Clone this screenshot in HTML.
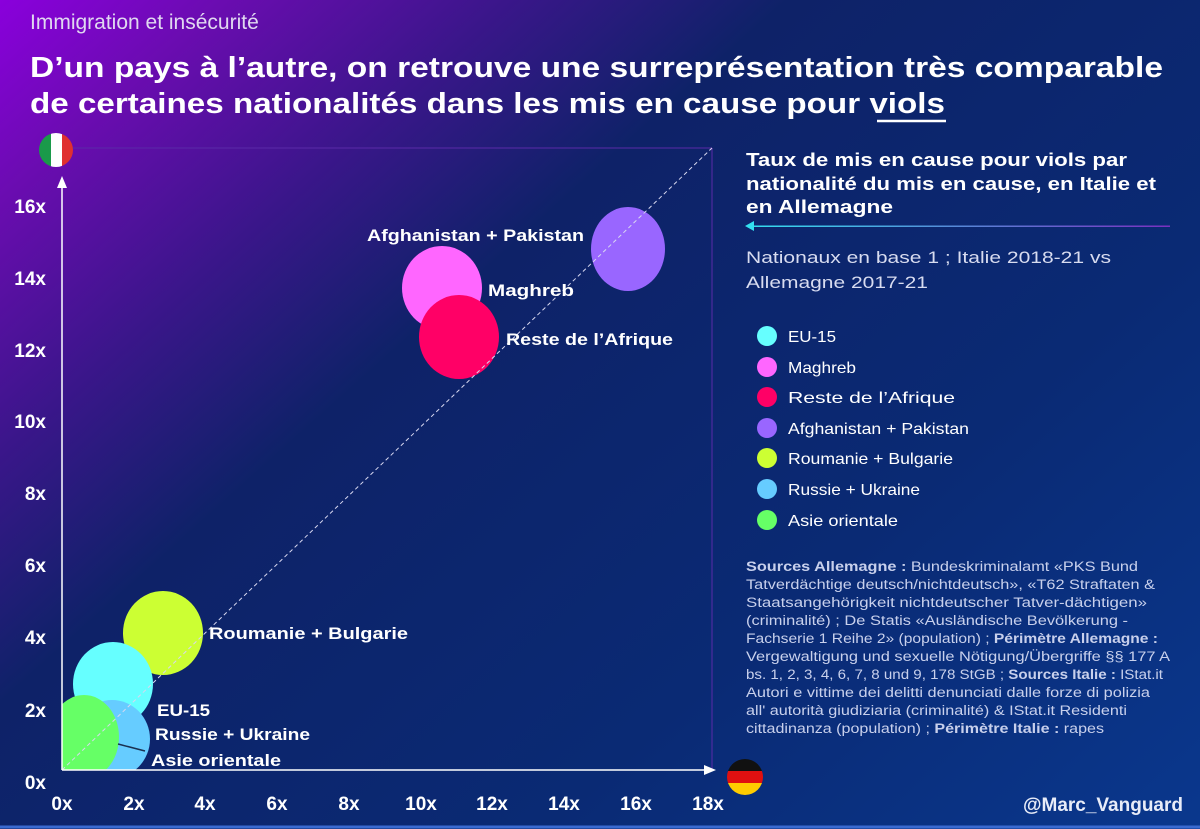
<!DOCTYPE html>
<html><head><meta charset="utf-8"><style>
html,body{margin:0;padding:0;background:#0a2468;}
svg{display:block;}
text{font-family:"Liberation Sans",sans-serif;}
</style></head><body>
<svg width="1200" height="829" viewBox="0 0 1200 829" xmlns="http://www.w3.org/2000/svg">
<defs>
<linearGradient id="bg" gradientUnits="userSpaceOnUse" x1="0" y1="0" x2="1000" y2="1120">
<stop offset="0" stop-color="#8a00dc"/>
<stop offset="0.1" stop-color="#6a0cb0"/>
<stop offset="0.225" stop-color="#3a168a"/>
<stop offset="0.35" stop-color="#0e2268"/>
<stop offset="0.65" stop-color="#0a2a74"/>
<stop offset="1" stop-color="#0a3a92"/>
</linearGradient>
<linearGradient id="arr" gradientUnits="userSpaceOnUse" x1="746" y1="0" x2="1170" y2="0">
<stop offset="0" stop-color="#33e0f0"/><stop offset="1" stop-color="#7a30c0"/>
</linearGradient>
<clipPath id="plot"><rect x="62" y="140" width="660" height="630"/></clipPath>
<clipPath id="itc"><circle cx="56" cy="150" r="17"/></clipPath>
<clipPath id="dec"><circle cx="745" cy="777" r="18"/></clipPath>
</defs>
<rect width="1200" height="829" fill="url(#bg)"/>
<line x1="0" y1="827" x2="1200" y2="827" stroke="#3a6ad0" stroke-width="3"/>

<text x="30" y="29" font-size="21" fill="#e0d8f0">Immigration et insécurité</text>
<text x="30" y="77" font-size="29" font-weight="bold" fill="#fff" textLength="1133" lengthAdjust="spacingAndGlyphs">D’un pays à l’autre, on retrouve une surreprésentation très comparable</text>
<text x="30" y="113" font-size="29" font-weight="bold" fill="#fff" textLength="915" lengthAdjust="spacingAndGlyphs">de certaines nationalités dans les mis en cause pour viols</text>
<line x1="877" y1="121" x2="946" y2="121" stroke="#fff" stroke-width="2.5"/>

<line x1="62" y1="148" x2="712" y2="148" stroke="#5a2aa8" stroke-width="1"/>
<line x1="712" y1="148" x2="712" y2="770" stroke="#5a2aa8" stroke-width="1"/>

<g clip-path="url(#plot)">
<ellipse cx="628" cy="249" rx="37" ry="42" fill="#9966ff"/>
<ellipse cx="442" cy="288" rx="40" ry="42" fill="#ff66ff"/>
<ellipse cx="459" cy="337" rx="40" ry="42" fill="#ff0066"/>
<ellipse cx="163" cy="633" rx="40" ry="42" fill="#ccff33"/>
<ellipse cx="113" cy="684" rx="40" ry="42" fill="#66ffff"/>
<ellipse cx="112" cy="739" rx="38" ry="39" fill="#66ccff"/>
<ellipse cx="84" cy="737" rx="35" ry="42" fill="#66ff66"/>
<line x1="118" y1="744" x2="145" y2="751" stroke="#1a3050" stroke-width="1.5"/>
<line x1="62" y1="770" x2="712" y2="148" stroke="#d8d8f0" stroke-width="1" stroke-dasharray="4,3"/>
</g>

<line x1="62" y1="770" x2="62" y2="186" stroke="#fff" stroke-width="1.5"/>
<polygon points="62,176 57,188 67,188" fill="#fff"/>
<line x1="62" y1="770" x2="706" y2="770" stroke="#fff" stroke-width="1.5"/>
<polygon points="716,770 704,765 704,775" fill="#fff"/>

<g font-size="19" font-weight="bold" fill="#fff" text-anchor="end">
<text x="46" y="213">16x</text><text x="46" y="285">14x</text><text x="46" y="357">12x</text>
<text x="46" y="428">10x</text><text x="46" y="500">8x</text><text x="46" y="572">6x</text>
<text x="46" y="644">4x</text><text x="46" y="717">2x</text><text x="46" y="789">0x</text>
</g>
<g font-size="19" font-weight="bold" fill="#fff" text-anchor="middle">
<text x="62" y="810">0x</text><text x="134" y="810">2x</text><text x="205" y="810">4x</text>
<text x="277" y="810">6x</text><text x="349" y="810">8x</text><text x="421" y="810">10x</text>
<text x="492" y="810">12x</text><text x="564" y="810">14x</text><text x="636" y="810">16x</text>
<text x="708" y="810">18x</text>
</g>

<g font-size="17" font-weight="bold" fill="#fff">
<text x="367" y="241" textLength="217" lengthAdjust="spacingAndGlyphs">Afghanistan + Pakistan</text>
<text x="488" y="296" textLength="86" lengthAdjust="spacingAndGlyphs">Maghreb</text>
<text x="506" y="345" textLength="167" lengthAdjust="spacingAndGlyphs">Reste de l’Afrique</text>
<text x="209" y="639" textLength="199" lengthAdjust="spacingAndGlyphs">Roumanie + Bulgarie</text>
<text x="157" y="716" textLength="53" lengthAdjust="spacingAndGlyphs">EU-15</text>
<text x="155" y="740" textLength="155" lengthAdjust="spacingAndGlyphs">Russie + Ukraine</text>
<text x="151" y="766" textLength="130" lengthAdjust="spacingAndGlyphs">Asie orientale</text>
</g>

<g clip-path="url(#itc)">
<rect x="39" y="133" width="12" height="34" fill="#1a9a4a"/>
<rect x="51" y="133" width="11" height="34" fill="#fff"/>
<rect x="62" y="133" width="12" height="34" fill="#e03030"/>
</g>
<g clip-path="url(#dec)">
<rect x="727" y="759" width="36" height="12" fill="#111"/>
<rect x="727" y="771" width="36" height="12" fill="#e01010"/>
<rect x="727" y="783" width="36" height="13" fill="#ffcc00"/>
</g>

<g font-size="18.5" font-weight="bold" fill="#fff" lengthAdjust="spacingAndGlyphs">
<text x="746" y="166" textLength="381" lengthAdjust="spacingAndGlyphs">Taux de mis en cause pour viols par</text>
<text x="746" y="190" textLength="410" lengthAdjust="spacingAndGlyphs">nationalité du mis en cause, en Italie et</text>
<text x="746" y="213" textLength="147" lengthAdjust="spacingAndGlyphs">en Allemagne</text>
</g>
<rect x="752" y="225.5" width="418" height="1.5" fill="url(#arr)"/>
<polygon points="745,226 754,221 754,231" fill="#33e0f0"/>
<g font-size="17" fill="#d8dcf0">
<text x="746" y="263" textLength="365" lengthAdjust="spacingAndGlyphs">Nationaux en base 1 ; Italie 2018-21 vs</text>
<text x="746" y="288" textLength="182" lengthAdjust="spacingAndGlyphs">Allemagne 2017-21</text>
</g>
<g font-size="16" fill="#fff">
<circle cx="767" cy="336" r="10" fill="#66ffff"/><text x="788" y="342" textLength="48" lengthAdjust="spacingAndGlyphs">EU-15</text>
<circle cx="767" cy="367" r="10" fill="#ff66ff"/><text x="788" y="373" textLength="68" lengthAdjust="spacingAndGlyphs">Maghreb</text>
<circle cx="767" cy="397" r="10" fill="#ff0066"/><text x="788" y="403" textLength="167" lengthAdjust="spacingAndGlyphs">Reste de l’Afrique</text>
<circle cx="767" cy="428" r="10" fill="#9966ff"/><text x="788" y="434" textLength="181" lengthAdjust="spacingAndGlyphs">Afghanistan + Pakistan</text>
<circle cx="767" cy="458" r="10" fill="#ccff33"/><text x="788" y="464" textLength="165" lengthAdjust="spacingAndGlyphs">Roumanie + Bulgarie</text>
<circle cx="767" cy="489" r="10" fill="#66ccff"/><text x="788" y="495" textLength="132" lengthAdjust="spacingAndGlyphs">Russie + Ukraine</text>
<circle cx="767" cy="520" r="10" fill="#66ff66"/><text x="788" y="526" textLength="110" lengthAdjust="spacingAndGlyphs">Asie orientale</text>
</g>

<g font-size="13.5" fill="#c8d0ec">
<text x="746" y="571" textLength="392" lengthAdjust="spacingAndGlyphs"><tspan font-weight="bold">Sources Allemagne :</tspan> Bundeskriminalamt «PKS Bund</text>
<text x="746" y="589" textLength="409" lengthAdjust="spacingAndGlyphs">Tatverdächtige deutsch/nichtdeutsch», «T62 Straftaten &amp;</text>
<text x="746" y="607" textLength="401" lengthAdjust="spacingAndGlyphs">Staatsangehörigkeit nichtdeutscher Tatver-dächtigen»</text>
<text x="746" y="625" textLength="382" lengthAdjust="spacingAndGlyphs">(criminalité) ; De Statis «Ausländische Bevölkerung -</text>
<text x="746" y="643" textLength="412" lengthAdjust="spacingAndGlyphs">Fachserie 1 Reihe 2» (population) ; <tspan font-weight="bold">Périmètre Allemagne :</tspan></text>
<text x="746" y="661" textLength="424" lengthAdjust="spacingAndGlyphs">Vergewaltigung und sexuelle Nötigung/Übergriffe §§ 177 A</text>
<text x="746" y="679" textLength="417" lengthAdjust="spacingAndGlyphs">bs. 1, 2, 3, 4, 6, 7, 8 und 9, 178 StGB ;  <tspan font-weight="bold">Sources Italie :</tspan> IStat.it</text>
<text x="746" y="697" textLength="404" lengthAdjust="spacingAndGlyphs">Autori e vittime dei delitti denunciati dalle forze di polizia</text>
<text x="746" y="715" textLength="381" lengthAdjust="spacingAndGlyphs">all' autorità giudiziaria (criminalité) &amp; IStat.it Residenti</text>
<text x="746" y="733" textLength="358" lengthAdjust="spacingAndGlyphs">cittadinanza (population) ; <tspan font-weight="bold">Périmètre Italie :</tspan> rapes</text>
</g>

<text x="1183" y="811" font-size="19" font-weight="bold" fill="#e8ecf8" text-anchor="end">@Marc_Vanguard</text>
</svg>
</body></html>
